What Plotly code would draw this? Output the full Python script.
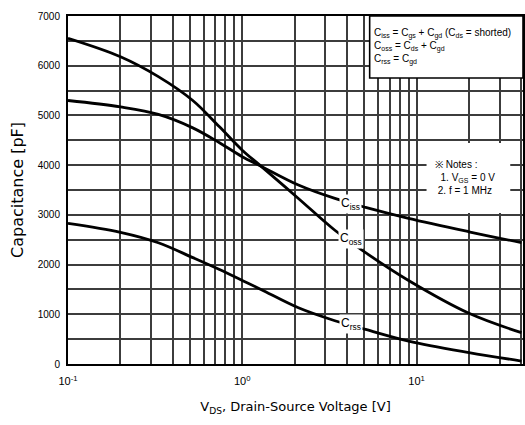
import numpy as np
import plotly.graph_objects as go

# ---- data ----
v_ds = [0.1, 0.2, 0.33, 0.52, 0.74, 1.0, 1.28, 2.1, 3.4, 5.1, 9.0, 20, 40]
c_iss = [5300, 5170, 5020, 4750, 4450, 4170, 3980, 3600, 3330, 3150, 2930, 2660, 2440]
c_oss = [6550, 6180, 5780, 5300, 4770, 4300, 3980, 3330, 2690, 2240, 1680, 1020, 630]
c_rss = [2830, 2650, 2440, 2140, 1900, 1680, 1500, 1130, 870, 695, 460, 230, 60]

x_major = [0.1, 1, 10]
x_major_text = ["10<sup>-1</sup>", "10<sup>0</sup>", "10<sup>1</sup>"]
x_minor = [m * d for d in (0.1, 1, 10) for m in range(2, 10)] + [40]
y_major = list(range(0, 7001, 1000))
y_major_text = [str(v) for v in y_major]

labels = ["C<sub>iss</sub>", "C<sub>oss</sub>", "C<sub>rss</sub>"]
label_pos_v = [4.2, 4.2, 4.2]
label_pos_c = [3225, 2520, 806]

legend_lines = [
    "C<sub>iss</sub> = C<sub>gs</sub> + C<sub>gd</sub> (C<sub>ds</sub> = shorted)",
    "C<sub>oss</sub> = C<sub>ds</sub> + C<sub>gd</sub>",
    "C<sub>rss</sub> = C<sub>gd</sub>",
]
notes_lines = ["※ Notes :", "&nbsp;&nbsp;1. V<sub>GS</sub> = 0 V", "&nbsp;2. f = 1 MHz"]

FONT = "Liberation Sans, Arial, sans-serif"

fig = go.Figure()
for y in (c_iss, c_oss, c_rss):
    fig.add_trace(go.Scatter(x=v_ds, y=y, mode="lines",
                             line=dict(color="black", width=2.8, shape="spline", smoothing=1.0),
                             showlegend=False, hoverinfo="skip"))

for lab, vx, cy in zip(labels, label_pos_v, label_pos_c):
    fig.add_annotation(x=np.log10(vx), y=cy, xref="x", yref="y", text=lab, showarrow=False,
                       bgcolor="white", font=dict(family=FONT, size=12, color="black"), borderpad=1)

# legend box
fig.add_shape(type="rect", xref="paper", yref="paper", x0=0.663, x1=1.0, y0=0.822, y1=1.0,
              fillcolor="white", line=dict(color="black", width=1.6), layer="above")
fig.add_annotation(xref="paper", yref="paper", x=0.668, y=0.911, xanchor="left", yanchor="middle",
                   text="<br>".join(legend_lines), align="left", showarrow=False,
                   font=dict(family=FONT, size=10, color="black"))

# notes box
fig.add_shape(type="rect", xref="paper", yref="paper", x0=0.788, x1=0.972, y0=0.434, y1=0.635,
              fillcolor="white", line=dict(width=0), layer="above")
fig.add_annotation(xref="paper", yref="paper", x=0.802, y=0.535, xanchor="left", yanchor="middle",
                   text="<br>".join(notes_lines), align="left", showarrow=False,
                   font=dict(family=FONT, size=10, color="black"))

grid_col = "#3c3c3c"
fig.update_layout(
    width=525, height=425,
    margin=dict(l=68, r=0, t=16, b=61),
    paper_bgcolor="white", plot_bgcolor="white",
    font=dict(family=FONT, color="black"),
    xaxis=dict(type="log", range=[-1, 1.611], tickmode="array", tickvals=x_major, ticktext=x_major_text,
               showgrid=True, gridcolor=grid_col, gridwidth=1.6,
               minor=dict(tickmode="array", tickvals=x_minor, showgrid=True, gridcolor=grid_col, gridwidth=1.5, ticks=""),
               showline=True, linecolor="black", linewidth=2, mirror=True,
               ticks="", ticklabelstandoff=6, tickfont=dict(size=11, family=FONT),
               title=dict(text="V<sub>DS</sub>, Drain-Source Voltage [V]", standoff=16,
                          font=dict(size=13, family="DejaVu Sans, sans-serif")),
               zeroline=False),
    yaxis=dict(range=[0, 7000], tickmode="array", tickvals=y_major, ticktext=y_major_text,
               showgrid=True, gridcolor=grid_col, gridwidth=1.6,
               minor=dict(dtick=500, showgrid=True, gridcolor=grid_col, gridwidth=1.5, ticks=""),
               showline=True, linecolor="black", linewidth=2, mirror=True,
               ticks="", ticklabelstandoff=4, tickfont=dict(size=10, family=FONT),
               title=dict(text="Capacitance [pF]", standoff=10,
                          font=dict(size=16, family="DejaVu Sans, sans-serif")),
               zeroline=False),
)

fig.write_html("out.html")
